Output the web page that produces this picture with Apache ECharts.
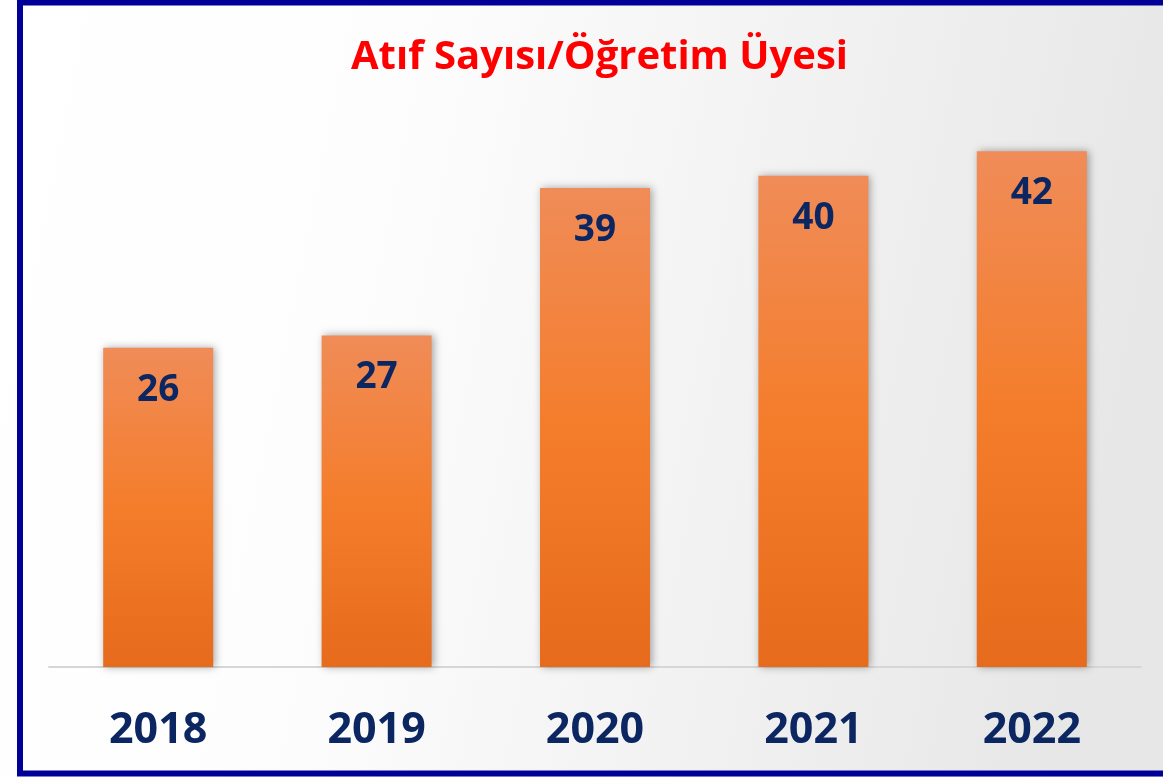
<!DOCTYPE html>
<html>
<head>
<meta charset="utf-8">
<script src="https://cdn.jsdelivr.net/npm/echarts@6/dist/echarts.min.js"></script>
<style>html,body{margin:0;padding:0;background:#fff;}#c{width:1163px;height:777px;}</style>
</head>
<body>
<div id="c"></div>
<script>
const titleText = 'Atıf Sayısı/Öğretim Üyesi';
const categories = ['2018', '2019', '2020', '2021', '2022'];
const values = [26, 27, 39, 40, 42];

const chart = echarts.init(document.getElementById('c'), null, {renderer: 'canvas'});
const navy = '#0c2661';
chart.setOption({
  backgroundColor: new echarts.graphic.LinearGradient(0, 0, 1, 0.3, [
    {offset: 0, color: '#ffffff'},
    {offset: 0.35, color: '#fdfdfd'},
    {offset: 1, color: '#e7e7e8'}
  ]),
  animation: false,
  title: {
    text: titleText,
    left: 346,
    top: 33,
    textStyle: {color: '#ff0000', fontFamily: 'Open Sans', fontWeight: 'bold', fontSize: 40}
  },
  grid: {left: 49, right: 22, top: 53, bottom: 110, containLabel: false},
  xAxis: {
    type: 'category',
    data: categories,
    axisLine: {lineStyle: {color: '#d6d6d6', width: 2}},
    axisTick: {show: false},
    axisLabel: {
      color: navy, fontFamily: 'Open Sans', fontWeight: 'bold', fontSize: 43, margin: 42
    }
  },
  yAxis: {
    type: 'value', min: 0, max: 50, interval: 10,
    show: false, splitLine: {show: false}
  },
  series: [{
    type: 'bar',
    data: values,
    barWidth: 110,
    itemStyle: {
      color: new echarts.graphic.LinearGradient(0, 0, 0, 1, [
        {offset: 0, color: '#f08c58'},
        {offset: 0.5, color: '#f47d2b'},
        {offset: 1, color: '#e66b1c'}
      ]),
      shadowColor: 'rgba(0,0,0,0.35)',
      shadowBlur: 8,
      shadowOffsetX: 2,
      shadowOffsetY: 0
    },
    label: {
      show: true,
      position: 'insideTop',
      distance: 24,
      color: navy,
      fontFamily: 'Open Sans',
      fontWeight: 'bold',
      fontSize: 37
    }
  }],
  graphic: [{
    type: 'rect',
    silent: true,
    z: 100,
    shape: {x: 20, y: 2.5, width: 1200, height: 771},
    style: {fill: 'none', stroke: '#000099', lineWidth: 6}
  }]
});
</script>
</body>
</html>
